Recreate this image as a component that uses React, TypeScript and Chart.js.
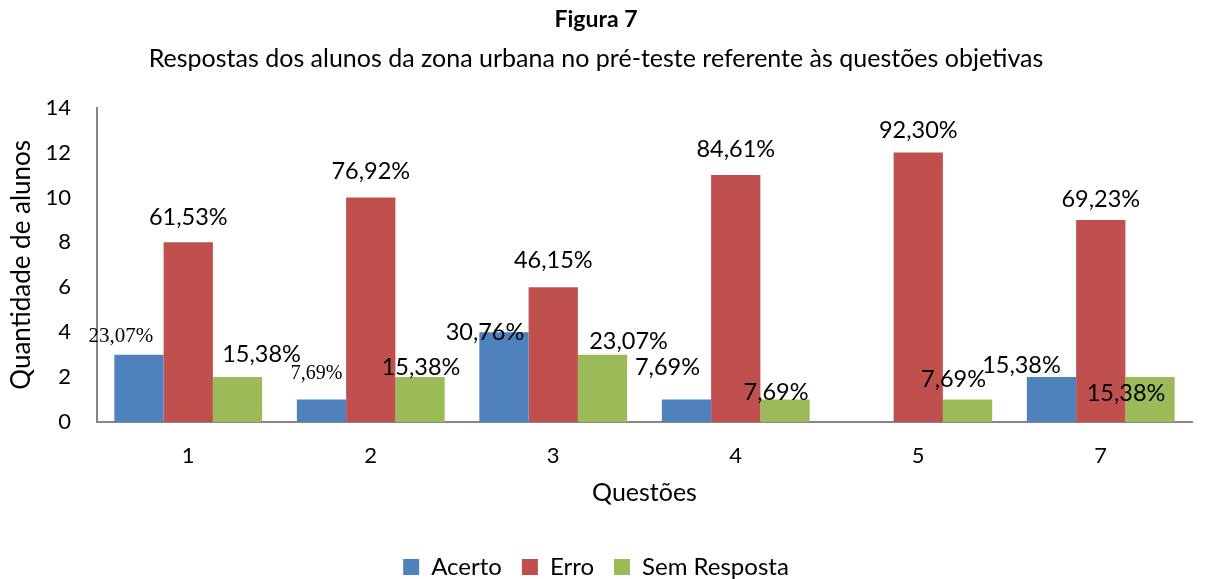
import React, { useEffect, useRef } from "react";
import { Chart, registerables } from "chart.js";

Chart.register(...registerables);

const categories = ["1", "2", "3", "4", "5", "7"];
const acerto = [3, 1, 4, 1, 0, 2];
const erro = [8, 10, 6, 11, 12, 9];
const semResposta = [2, 2, 3, 1, 1, 2];

const acertoLabels = ["23,07%", "7,69%", "30,76%", "7,69%", "", "15,38%"];
const erroLabels = ["61,53%", "76,92%", "46,15%", "84,61%", "92,30%", "69,23%"];
const semLabels = ["15,38%", "15,38%", "23,07%", "7,69%", "7,69%", "15,38%"];

const yTicks = [0, 2, 4, 6, 8, 10, 12, 14];

// label offsets (dx, dy) relative to the top-centre of each bar, per dataset
const labelOffsets = [
  [[-18, -18], [-5, -26], [-19, 0], [-19, -32], [0, 0], [-30, -12]],
  [[0, -25], [0, -26], [0, -27], [0, -26], [0, -22], [0, -20]],
  [[24, -23], [1, -10], [26, -13], [-9, -7], [-14, -20], [-24, 16]],
];
// serif font size for labels drawn in a serif face (0 = default face)
const serifSizes = [[21, 20, 0, 0, 0, 0], [], []];

const FONT = "Lato, 'Noto Sans', sans-serif";

const labelPlugin = {
  id: "barLabels",
  afterDatasetsDraw(chart: any) {
    const ctx = chart.ctx;
    const allLabels = [acertoLabels, erroLabels, semLabels];
    ctx.save();
    ctx.textAlign = "center";
    ctx.textBaseline = "middle";
    ctx.fillStyle = "#000";
    chart.data.datasets.forEach((_ds: any, di: number) => {
      const meta = chart.getDatasetMeta(di);
      meta.data.forEach((bar: any, i: number) => {
        const text = allLabels[di][i];
        if (!text) return;
        const [dx, dy] = labelOffsets[di][i];
        const serif = (serifSizes[di] && serifSizes[di][i]) || 0;
        ctx.font = serif ? `${serif}px 'Liberation Serif', serif` : `23.5px ${FONT}`;
        ctx.fillText(text, bar.x + dx, bar.y + dy);
      });
    });
    ctx.restore();
  },
};

export default function App() {
  const ref = useRef<HTMLCanvasElement>(null);
  useEffect(() => {
    document.body.style.margin = "0";
    const chart = new Chart(ref.current!, {
      type: "bar",
      data: {
        labels: categories,
        datasets: [
          { label: "Acerto", data: acerto, backgroundColor: "#4F81BD" },
          { label: "Erro", data: erro, backgroundColor: "#C0504D" },
          { label: "Sem Resposta", data: semResposta, backgroundColor: "#9BBB59" },
        ],
      },
      options: {
        animation: false,
        responsive: false,
        layout: { padding: { left: 0, right: 27, top: 0, bottom: -10 } },
        datasets: {
          bar: { categoryPercentage: 0.81, barPercentage: 1.0 },
        },
        plugins: {
          title: {
            display: true,
            text: "Figura 7",
            color: "#000",
            font: { family: FONT, size: 23, weight: "bold" },
            padding: { top: 6, bottom: 10 },
          },
          subtitle: {
            display: true,
            text: "Respostas dos alunos da zona urbana no pré-teste referente às questões objetivas",
            color: "#000",
            font: { family: FONT, size: 25 },
            padding: { top: 0, bottom: 34 },
          },
          legend: {
            position: "bottom",
            labels: {
              color: "#000",
              font: { family: FONT, size: 24 },
              boxWidth: 16,
              boxHeight: 16,
              padding: 20,
            },
          },
          tooltip: { enabled: false },
        },
        scales: {
          x: {
            afterFit: (scale: any) => {
              scale.height = 113;
            },
            grid: { display: false, drawTicks: false },
            border: { display: true, color: "#868686", width: 2 },
            ticks: { color: "#000", font: { family: FONT, size: 22 }, padding: 21 },
            title: {
              display: true,
              text: "Questões",
              color: "#000",
              font: { family: FONT, size: 25 },
              padding: { top: 10, bottom: 27 },
            },
          },
          y: {
            min: 0,
            max: 14,
            afterBuildTicks: (scale: any) => {
              scale.ticks = yTicks.map((v) => ({ value: v }));
            },
            afterFit: (scale: any) => {
              scale.width = 97;
            },
            grid: { display: false, drawTicks: false },
            border: { display: true, color: "#868686", width: 2 },
            ticks: { color: "#000", font: { family: FONT, size: 22 }, padding: 26 },
            title: {
              display: true,
              text: "Quantidade de alunos",
              color: "#000",
              font: { family: FONT, size: 26 },
              padding: { top: 6, bottom: 0 },
            },
          },
        },
      },
      plugins: [labelPlugin],
    });
    return () => chart.destroy();
  }, []);
  return <canvas ref={ref} width={1219} height={579} style={{ display: "block" }} />;
}
